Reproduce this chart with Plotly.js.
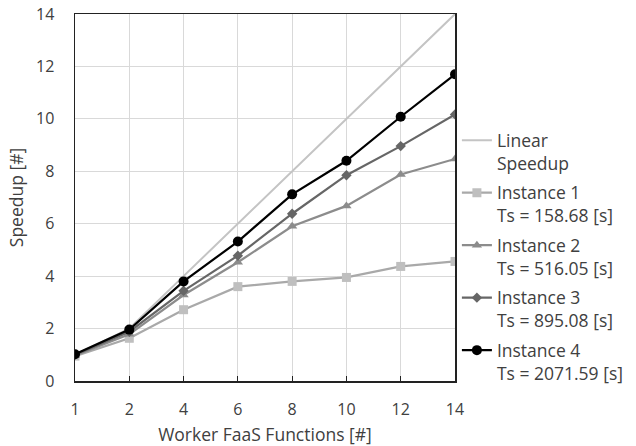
<!DOCTYPE html>
<html>
<head>
<meta charset="utf-8">
<script src="https://cdn.plot.ly/plotly-3.0.1.min.js"></script>
<style>html,body{margin:0;padding:0;background:#fff;}#chart{width:636px;height:446px;}</style>
</head>
<body>
<div id="chart"></div>
<script>
const workers = ['1', '2', '4', '6', '8', '10', '12', '14'];
const linearSpeedup = [1, 2, 4, 6, 8, 10, 12, 14];
const instance1 = [0.95, 1.63, 2.72, 3.6, 3.8, 3.95, 4.37, 4.56];
const instance2 = [0.97, 1.78, 3.28, 4.53, 5.9, 6.68, 7.88, 8.47];
const instance3 = [1.0, 1.88, 3.44, 4.78, 6.38, 7.85, 8.96, 10.17];
const instance4 = [1.02, 1.96, 3.8, 5.32, 7.12, 8.4, 10.08, 11.7];
const seriesNames = ['Linear<br>Speedup', 'Instance 1<br>Ts = 158.68 [s]', 'Instance 2<br>Ts = 516.05 [s]', 'Instance 3<br>Ts = 895.08 [s]', 'Instance 4<br>Ts = 2071.59 [s]'];

const font = 'Open Sans, Noto Sans, sans-serif';
const traces = [
  {x: workers, y: linearSpeedup, name: seriesNames[0], legendgroup: 'g0', mode: 'lines', line: {color: '#c4c4c4', width: 2}},
  {x: workers, y: instance1, name: seriesNames[1], legendgroup: 'g1', mode: 'lines+markers', line: {color: '#a9a9a9', width: 2.2}, marker: {symbol: 'square', size: 9, color: '#bfbfbf'}},
  {x: workers, y: instance2, name: seriesNames[2], legendgroup: 'g2', mode: 'lines+markers', line: {color: '#8c8c8c', width: 2.2}, marker: {symbol: 'triangle-up', size: 9, color: '#8c8c8c'}},
  {x: workers, y: instance3, name: seriesNames[3], legendgroup: 'g3', mode: 'lines+markers', line: {color: '#666666', width: 2.2}, marker: {symbol: 'diamond', size: 8, color: '#666666'}},
  {x: workers, y: instance4, name: seriesNames[4], legendgroup: 'g4', mode: 'lines+markers', line: {color: '#000000', width: 2.2}, marker: {symbol: 'circle', size: 10, color: '#000000'}}
];

const layout = {
  width: 636, height: 446,
  margin: {l: 75, r: 181, t: 14, b: 65, autoexpand: false},
  paper_bgcolor: '#ffffff', plot_bgcolor: '#ffffff',
  font: {family: font, size: 16, color: '#404040'},
  showlegend: true,
  legend: {x: 1.005, xanchor: 'left', y: 0.705, yanchor: 'top', valign: 'top', traceorder: 'grouped', font: {size: 17.5, color: '#404040'}, tracegroupgap: 4, bgcolor: 'rgba(0,0,0,0)'},
  xaxis: {
    type: 'category', categoryorder: 'array', categoryarray: workers,
    range: [0, 7],
    showgrid: true, gridcolor: '#d9d9d9', gridwidth: 1,
    showline: true, linecolor: '#222', linewidth: 1.5, mirror: true,
    ticks: 'inside', ticklen: 5, tickcolor: '#222',
    ticklabelstandoff: 13,
    tickfont: {size: 16, color: '#404040'},
    title: {text: 'Worker FaaS Functions [#]', font: {size: 17.5, color: '#404040'}, standoff: 13},
    zeroline: false
  },
  yaxis: {
    range: [0, 14], dtick: 2, tick0: 0,
    showgrid: true, gridcolor: '#d9d9d9', gridwidth: 1,
    showline: true, linecolor: '#222', linewidth: 1.5, mirror: true,
    ticks: '', ticklabelstandoff: 16,
    tickfont: {size: 16, color: '#404040'},
    title: {text: 'Speedup [#]', font: {size: 17.5, color: '#404040'}, standoff: 8},
    zeroline: false
  }
};

Plotly.newPlot('chart', traces, layout, {displayModeBar: false, staticPlot: true});
</script>
</body>
</html>
